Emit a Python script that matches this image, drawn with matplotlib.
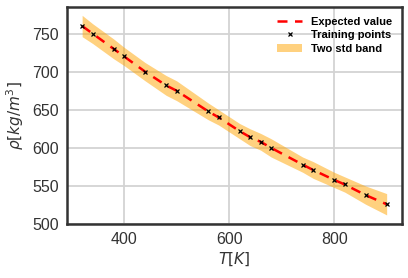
import matplotlib
matplotlib.use("Agg")
import matplotlib.pyplot as plt
import numpy as np

# training data (temperature in K, density in kg/m^3)
T_train = [320, 340, 380, 400, 440, 480, 500, 560, 580, 620, 640, 660, 680, 740, 760, 800, 820, 860, 900]
rho_train = [760, 750, 730, 720, 700, 682, 675, 648, 640, 622, 614, 608, 600, 578, 571, 558, 552, 538, 526]
# two std half-width at the training temperatures
half_width = [14, 13, 13, 12, 12, 13, 13, 11, 10, 10, 11, 11, 12, 10, 11, 10, 10, 12, 14]

plt.rcParams['font.family'] = ['Liberation Sans', 'DejaVu Sans']
plt.rcParams['mathtext.fontset'] = 'dejavusans'

fig, ax = plt.subplots(figsize=(4.08, 2.78), dpi=100)
fig.subplots_adjust(left=0.164, right=0.985, top=0.975, bottom=0.194)

T = np.array(T_train)
rho = np.array(rho_train)
hw = np.array(half_width)

band = ax.fill_between(T, rho - hw, rho + hw, color='orange', alpha=0.5, lw=0, label='Two std band', zorder=2)
line, = ax.plot(T, rho, '--', color='red', lw=1.8, dashes=(4, 3), label='Expected value', zorder=3)
pts, = ax.plot(T, rho, 'x', color='black', ms=3.5, mew=0.9, ls='none', label='Training points', zorder=4)

ax.set_ylim(500, 785)
ax.set_xticks([400, 600, 800])
ax.set_yticks([500, 550, 600, 650, 700, 750])
ax.grid(True, color='#d3d3d3', lw=1.3)
ax.set_axisbelow(True)
for s in ax.spines.values():
    s.set_color('#333333')
    s.set_linewidth(1.8)
ax.tick_params(labelsize=11.5, length=0, pad=6, colors='#333333')
ax.set_xlabel(r'$T[K]$', fontsize=11, color='#333333', labelpad=2)
ax.set_ylabel(r'$\rho[kg/m^3]$', fontsize=11, color='#333333', labelpad=4)

ax.legend(handles=[line, pts, band], loc='upper right', frameon=False,
          prop={'weight': 'bold', 'size': 8},
          handlelength=2.2, borderaxespad=0.5, labelspacing=0.3)

fig.savefig('out.png', dpi=100)
